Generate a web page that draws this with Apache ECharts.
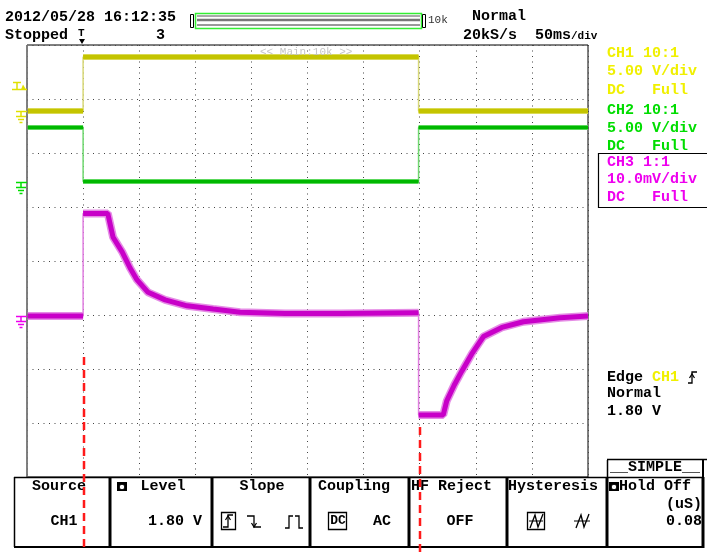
<!DOCTYPE html>
<html><head><meta charset="utf-8">
<script src="https://cdn.jsdelivr.net/npm/echarts@6/dist/echarts.min.js"></script>
<style>html,body{margin:0;padding:0;background:#fff}#c{width:707px;height:552px}</style>
</head><body><div id="c"></div><script>
// Horizontal: 50 ms/div, 10 divisions, trigger at t = 0
const timeMin = -50, timeMax = 450, timePerDiv = 50;
// Vertical: 8 divisions, centre = 0
const divMin = -4, divMax = 4;

// CH1 (V)
const ch1Time  = [-50, 0, 0, 299, 299, 450];
const ch1Volts = [0, 0, 5, 5, 0, 0];
// CH2 (V)
const ch2Time  = [-50, 0, 0, 299, 299, 450];
const ch2Volts = [5, 5, 0, 0, 5, 5];
// CH3 (mV)
const ch3Time = [-50, 0, 0, 22, 26.7, 34.8, 41.9, 48.1, 57.9, 73.1, 92.7, 115.9, 139.9, 180, 230, 299,
                 299, 321, 324.1, 330.7, 337.5, 346.4, 356.8, 373.2, 392.4, 425.1, 450];
const ch3MilliVolts = [0, 0, 19, 19, 14.6, 11.9, 8.9, 6.7, 4.4, 3.0, 1.9, 1.3, 0.7, 0.5, 0.5, 0.6,
                       -18.3, -18.3, -15.7, -12.8, -10.2, -7.0, -3.8, -2.1, -1.05, -0.3, 0];

// Channel settings: units per division and ground position (divisions from centre)
const channelNames = ['CH1', 'CH2', 'CH3'];
const unitsPerDiv = [5, 5, 10];
const groundDiv = [2.78, 1.47, -1.02];
const triggerLevel = 1.80;          // CH1, volts
const cursorTimes = [0, 299];       // red cursors

const FONT = "'Liberation Mono','DejaVu Sans Mono',monospace";
const f = (s, b) => (b === false ? '' : 'bold ') + s + 'px ' + FONT;

function toDiv(ch, v) { return groundDiv[ch] + v / unitsPerDiv[ch]; }
function fullData(ch, t, v) { return t.map((x, i) => [x, toDiv(ch, v[i])]); }
// same points, broken at vertical edges so that only the levels are drawn thick
function levelData(ch, t, v) {
  const out = [];
  t.forEach((x, i) => {
    if (i > 0 && t[i - 1] === x) out.push(null);
    out.push([x, toDiv(ch, v[i])]);
  });
  return out;
}

const traces = [
  { ch: 2, t: ch3Time, v: ch3MilliVolts, edge: '#e07ee0', halo: '#e58ce5', core: '#c800c8', hw: 8, cw: 5 },
  { ch: 1, t: ch2Time, v: ch2Volts, edge: '#70d870', halo: '#5cd85c', core: '#00b800', hw: 5, cw: 3 },
  { ch: 0, t: ch1Time, v: ch1Volts, edge: '#d8d878', halo: '#dada55', core: '#c4c400', hw: 6, cw: 4 }
];
const series = [];
traces.forEach(tr => {
  series.push({ type: 'line', data: fullData(tr.ch, tr.t, tr.v), symbol: 'none', silent: true,
    lineStyle: { color: tr.edge, width: 1.5 }, z: 2 });
  series.push({ type: 'line', data: levelData(tr.ch, tr.t, tr.v), symbol: 'none', silent: true,
    connectNulls: false, lineStyle: { color: tr.halo, width: tr.hw }, z: 3 });
  series.push({ type: 'line', data: levelData(tr.ch, tr.t, tr.v), symbol: 'none', silent: true,
    connectNulls: false, lineStyle: { color: tr.core, width: tr.cw }, z: 4 });
});

const chart = echarts.init(document.getElementById('c'));
const dotted = { show: true, lineStyle: { color: '#444', width: 1, type: [1, 4.5] } };
chart.setOption({
  animation: false,
  backgroundColor: '#fff',
  grid: { left: 27, right: 119, top: 45, bottom: 75, show: true, borderColor: '#000', borderWidth: 1, backgroundColor: 'transparent' },
  xAxis: { type: 'value', min: timeMin, max: timeMax, interval: timePerDiv,
    axisLabel: { show: false }, axisTick: { show: false }, axisLine: { show: false }, splitLine: dotted },
  yAxis: { type: 'value', min: divMin, max: divMax, interval: 1,
    axisLabel: { show: false }, axisTick: { show: false }, axisLine: { show: false }, splitLine: dotted },
  series: series
});

const g = [];
function txt(x, y, text, opt) {
  opt = opt || {};
  g.push({ type: 'text', x: x, y: y, z: 50, silent: true, style: Object.assign({
    text: text, font: f(15), fill: '#000', align: 'left', verticalAlign: 'middle' }, opt) });
}
function line(x1, y1, x2, y2, color, w, dash) {
  g.push({ type: 'line', z: 50, silent: true, shape: { x1: x1, y1: y1, x2: x2, y2: y2 },
    style: { stroke: color, lineWidth: w || 1, lineDash: dash || null } });
}
function rect(x, y, w, h, stroke, fill, lw) {
  g.push({ type: 'rect', z: 49, silent: true, shape: { x: x, y: y, width: w, height: h },
    style: { stroke: stroke || null, fill: fill || 'none', lineWidth: lw || 1 } });
}
function poly(pts, color, w, fill) {
  g.push({ type: fill ? 'polygon' : 'polyline', z: 51, silent: true, shape: { points: pts },
    style: fill ? { fill: color } : { stroke: color, lineWidth: w || 1.2, fill: 'none' } });
}

// left edge of the graticule is grey
line(27, 45, 27, 477, '#808080', 1.5);

// header
txt(5, 17, '2012/05/28 16:12:35');
txt(5, 35, 'Stopped');
txt(78, 33, 'T', { font: f(11) });
poly([[79, 39], [85, 39], [82, 44]], '#000', 1, true);
txt(156, 35, '3');
rect(190.5, 14.5, 3, 13, '#000', '#fff');
rect(195.5, 13.5, 226, 15, '#33ee33', '#fff', 1.5);
line(197, 16, 420, 16, '#555', 1);
line(197, 20, 420, 20, '#777', 2.5);
line(197, 25, 420, 25, '#333', 1);
rect(422.5, 14.5, 3, 13, '#000', '#fff');
txt(428, 20, '10k', { font: f(11, false), fill: '#333' });
txt(472, 16, 'Normal');
txt(463, 35, '20kS/s');
txt(535, 35, '{a|50ms}{b|/div}', { rich: { a: { font: f(15) }, b: { font: f(11), padding: [3, 0, 0, 0] } } });
txt(260, 52, '<< Main:10k >>', { font: f(11, false), fill: '#c4c4c4' });

// right-hand channel info
const Y1 = '#f0f000', G1 = '#00dd00', M1 = '#ee00ee';
txt(607, 53, 'CH1 10:1', { fill: Y1 });
txt(607, 71, '5.00 V/div', { fill: Y1 });
txt(607, 90, 'DC   Full', { fill: Y1 });
txt(607, 110, 'CH2 10:1', { fill: G1 });
txt(607, 128, '5.00 V/div', { fill: G1 });
txt(607, 146, 'DC   Full', { fill: G1 });
rect(598.5, 153.5, 110, 54, '#000', null, 1.2);
txt(607, 162, 'CH3 1:1', { fill: M1 });
txt(607, 179, '10.0mV/div', { fill: M1 });
txt(607, 197, 'DC   Full', { fill: M1 });

// trigger info
txt(607, 377, '{k|Edge }{y|CH1}', { rich: { k: { font: f(15), fill: '#000' }, y: { font: f(15), fill: Y1 } } });
poly([[688, 383], [692, 383], [692, 372], [697, 372]], '#000', 1.3);
poly([[689.5, 378], [692, 374], [694.5, 378]], '#000', 1.2);
txt(607, 393, 'Normal');
txt(607, 411, '1.80 V');
line(607, 459.5, 707, 459.5, '#000', 1.5);

// SIMPLE tab
line(607.5, 460, 607.5, 477, '#000', 1.5);
line(703, 460, 703, 477, '#000', 2);
txt(655, 467, '__SIMPLE__', { align: 'center' });

// soft-key panel
line(14, 477.5, 704, 477.5, '#000', 1.5);
line(14, 547, 704, 547, '#000', 2);
line(14.5, 477, 14.5, 547, '#000', 1.5);
const boxEdges = [110, 212, 310, 409, 507, 607, 703];
boxEdges.forEach(x => line(x, 477, x, 548, '#000', 3));
function camera(x, y) {
  rect(x, y, 10, 9, null, '#000');
  g.push({ type: 'circle', z: 52, silent: true, shape: { cx: x + 5, cy: y + 5, r: 2.8 },
    style: { fill: '#fff', stroke: '#000', lineWidth: 1 } });
}
txt(59, 486, 'Source', { align: 'center' });
txt(64, 521, 'CH1', { align: 'center' });
camera(117, 482);
txt(163, 486, 'Level', { align: 'center' });
txt(202, 521, '1.80 V', { align: 'right' });
txt(262, 486, 'Slope', { align: 'center' });
rect(221.5, 512.5, 14, 17, '#000', null, 1.3);
poly([[223, 527], [228, 527], [228, 515], [233, 515]], '#000', 1.3);
poly([[225.5, 520], [228, 516], [230.5, 520]], '#000', 1.2);
poly([[247, 516], [254, 516], [254, 527], [261, 527]], '#000', 1.3);
poly([[251.5, 523], [254, 527], [256.5, 523]], '#000', 1.2);
poly([[285, 528], [289, 528], [289, 516], [293, 516]], '#000', 1.3);
poly([[295, 516], [299, 516], [299, 528], [303, 528]], '#000', 1.3);
txt(318, 486, 'Coupling');
rect(328.5, 512.5, 18, 17, '#000', null, 1.3);
txt(338, 521, 'DC', { align: 'center', font: f(13) });
txt(373, 521, 'AC');
txt(411, 486, 'HF Reject');
txt(460, 521, 'OFF', { align: 'center' });
txt(508, 486, 'Hysteresis');
rect(527.5, 512.5, 17, 17, '#000', null, 1.3);
line(529, 521, 543, 521, '#000', 1);
poly([[530, 528], [535, 515], [538, 527], [543, 514]], '#000', 1.3);
line(574, 521, 590, 521, '#000', 1);
poly([[576, 528], [581, 515], [584, 527], [589, 514]], '#000', 1.3);
camera(609, 482);
txt(619, 486, 'Hold Off');
txt(702, 504, '(uS)', { align: 'right' });
txt(702, 521, '0.08', { align: 'right' });

// ground and trigger-level markers, placed through the axis scale
const gColors = ['#e0e000', '#00dd00', '#ee00ee'];
[0, 1, 2].forEach(ch => {
  const y = Math.round(chart.convertToPixel({ gridIndex: 0 }, [0, groundDiv[ch]])[1]) + 0.5;
  const c = gColors[ch];
  line(16, y, 27, y, c, 1.5);
  line(21, y, 21, y + 5, c, 1.5);
  line(16, y + 5, 26, y + 5, c, 1.5);
  line(18, y + 8, 24, y + 8, c, 1.5);
  line(19.5, y + 11, 22.5, y + 11, c, 1.5);
});
const ty = Math.round(chart.convertToPixel({ gridIndex: 0 }, [0, toDiv(0, triggerLevel)])[1]) - 1.5;
line(13, ty - 7, 21, ty - 7, '#e0e000', 1.5);
line(17, ty - 7, 17, ty, '#e0e000', 1.5);
line(12, ty, 27, ty, '#e0e000', 1.5);
poly([[21, ty], [26, ty], [23, ty - 5]], '#e0e000', 1, true);

// red time cursors
const cursorTops = [357, 427];
cursorTimes.forEach((t, i) => {
  const x = Math.round(chart.convertToPixel({ gridIndex: 0 }, [t, 0])[0]) + 1;
  line(x, cursorTops[i], x, 552, '#ff1a1a', 2.5, [8, 5]);
});

chart.setOption({ graphic: { elements: g } });
</script></body></html>
